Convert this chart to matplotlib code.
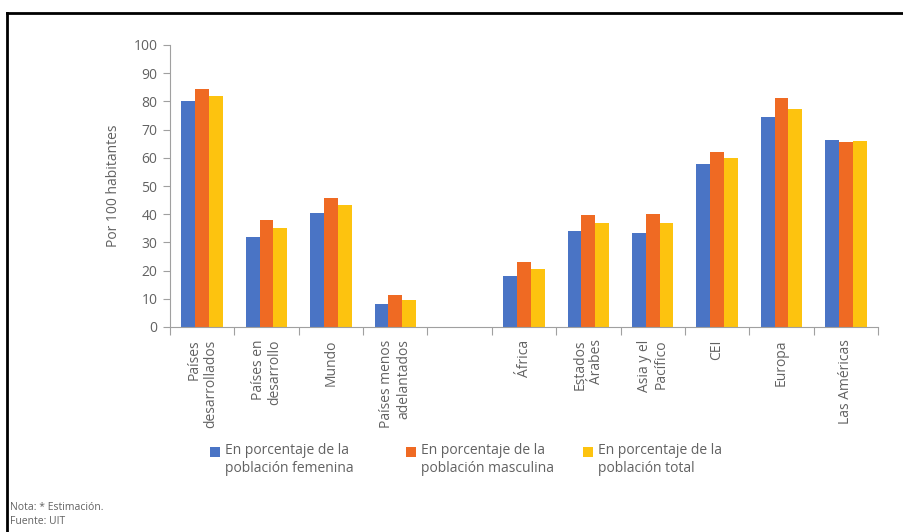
import numpy as np
import matplotlib
matplotlib.use("Agg")
import matplotlib.pyplot as plt
from matplotlib.lines import Line2D
from matplotlib.patches import Rectangle

plt.rcParams['font.family'] = ['Open Sans', 'DejaVu Sans']

# datos (por 100 habitantes)
categorias = ["Países\ndesarrollados", "Países en\ndesarrollo", "Mundo",
              "Países menos\nadelantados", "", "África", "Estados\nÁrabes",
              "Asia y el\nPacífico", "CEI", "Europa", "Las Américas"]
femenina = [80, 32, 40.5, 8, None, 18.2, 33.9, 33.2, 57.7, 74.4, 66.3]
masculina = [84.5, 38, 45.8, 11.2, None, 22.9, 39.6, 40.2, 62.2, 81.1, 65.7]
total = [82, 35, 43.2, 9.5, None, 20.6, 37, 36.8, 59.8, 77.4, 66]
series = ["En porcentaje de la\npoblación femenina",
          "En porcentaje de la\npoblación masculina",
          "En porcentaje de la\npoblación total"]
colores = ["#4A74C5", "#EF6A23", "#FDC30F"]

gris = "#626262"

fig = plt.figure(figsize=(9.04, 5.32), dpi=100)
ax = fig.add_axes([170/904, 1-327/532, 708/904, 282/532])

x = np.arange(len(categorias))
ancho = 0.215
for k, (vals, col) in enumerate(zip([femenina, masculina, total], colores)):
    xs = [xi for xi, v in zip(x, vals) if v is not None]
    vs = [v for v in vals if v is not None]
    ax.bar(np.array(xs) + (k - 1) * ancho, vs, width=ancho, color=col, label=series[k])

ax.set_xlim(-0.5, len(categorias) - 0.5)
ax.set_ylim(0, 100)
ax.set_yticks(np.arange(0, 101, 10))
ax.tick_params(axis='y', length=5, color="#a0a0a0", labelcolor=gris, labelsize=10, pad=4)

# ticks entre grupos, etiquetas en el centro
ax.set_xticks(np.arange(-0.5, len(categorias), 1))
ax.set_xticklabels([])
ax.tick_params(axis='x', which='major', length=6, color="#a0a0a0")
ax.set_xticks(x, minor=True)
ax.set_xticklabels(categorias, minor=True, rotation=90, ha='center', va='top',
                   multialignment='right', color=gris, fontsize=10, linespacing=1.15)
ax.tick_params(axis='x', which='minor', length=0, pad=9)

for s in ['top', 'right']:
    ax.spines[s].set_visible(False)
for s in ['left', 'bottom']:
    ax.spines[s].set_color("#a0a0a0")

ax.set_ylabel("Por 100 habitantes", color=gris, fontsize=10, labelpad=9)

# leyenda hecha a mano (cuadro alineado con la primera línea)
for xl, col, txt in zip([210, 406, 583], colores, series):
    fig.add_artist(Rectangle((xl/904, 1-457/532), 10/904, 10/532,
                             transform=fig.transFigure, facecolor=col, edgecolor='none'))
    fig.text((xl + 15)/904, 1-443/532, txt, fontsize=10, color=gris, va='top',
             linespacing=1.3)

fig.text(10/904, 1-507/532, "Nota: * Estimación.", fontsize=7.5, color=gris, va='center')
fig.text(10/904, 1-522/532, "Fuente: UIT", fontsize=7.5, color=gris, va='center')

# marco
fig.add_artist(Line2D([7/904, 7/904], [0, 1-13/532], color='black', lw=2))
fig.add_artist(Line2D([7/904, 1], [1-13/532, 1-13/532], color='black', lw=2))

fig.savefig("out.png", dpi=100)
